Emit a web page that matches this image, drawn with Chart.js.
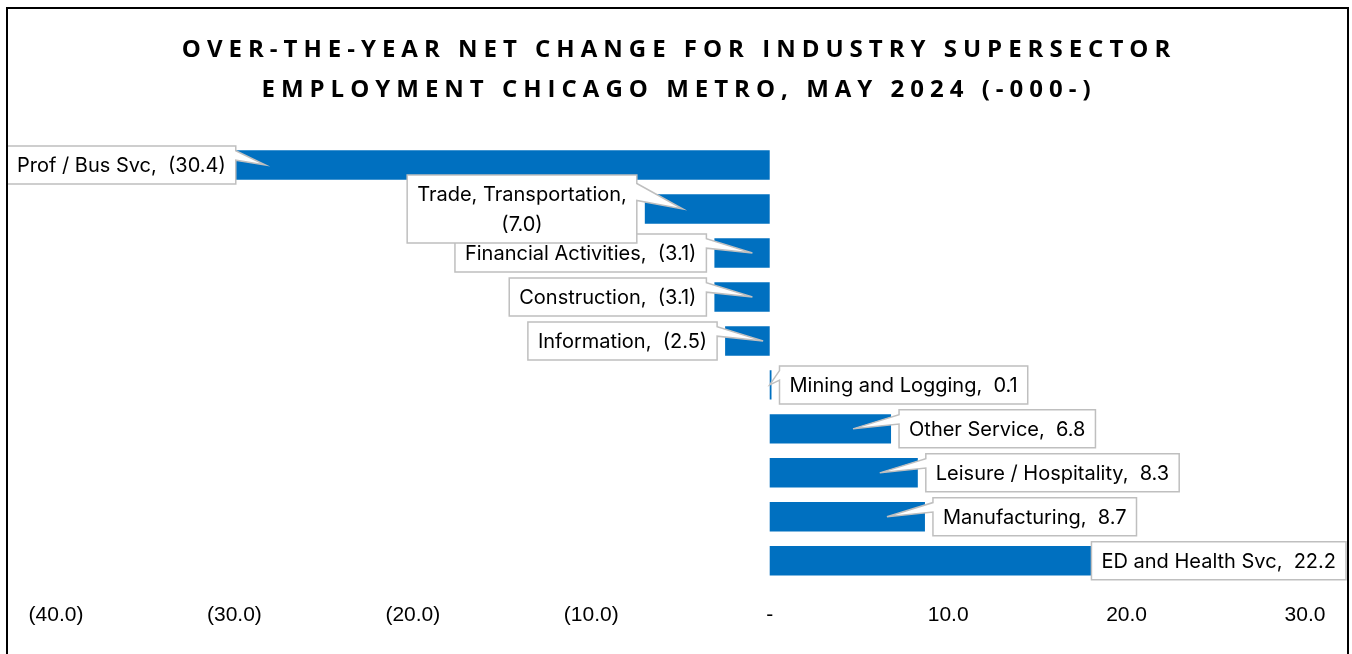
<!DOCTYPE html>
<html><head><meta charset="utf-8">
<script src="https://cdn.jsdelivr.net/npm/chart.js@4.4.1/dist/chart.umd.min.js"></script>
<style>html,body{margin:0;padding:0;background:#fff;overflow:hidden}</style>
</head><body>
<canvas id="c" width="1352" height="654"></canvas>
<script>
const categories = ['Prof / Bus Svc','Trade, Transportation','Financial Activities','Construction','Information','Mining and Logging','Other Service','Leisure / Hospitality','Manufacturing','ED and Health Svc'];
const netChange = [-30.4,-7.0,-3.1,-3.1,-2.5,0.1,6.8,8.3,8.7,22.2];
const titleLines = ['OVER-THE-YEAR NET CHANGE FOR INDUSTRY SUPERSECTOR','EMPLOYMENT CHICAGO METRO, MAY 2024 (-000-)'];
const axisMin = -40, axisMax = 30, axisStep = 10;

function fmtNum(v){
  if (Math.abs(v) < 1e-9) return '-';
  return v < 0 ? '(' + Math.abs(v).toFixed(1) + ')' : v.toFixed(1);
}

const LABEL_FONT = '20px Inter';
const BAR_COLOR = '#0070C0';

const framePlugin = {
  id:'frame',
  afterDraw(chart){
    const ctx = chart.ctx; ctx.save();
    ctx.strokeStyle = '#000'; ctx.lineWidth = 2;
    ctx.strokeRect(7, 8, 1341, 720);
    ctx.restore();
  }
};

const titlePlugin = {
  id:'spacedTitle',
  afterDraw(chart){
    const ctx = chart.ctx; ctx.save();
    ctx.fillStyle = '#000';
    ctx.font = 'bold 24px "Open Sans"';
    ctx.letterSpacing = '6px';
    ctx.textAlign = 'center'; ctx.textBaseline = 'alphabetic';
    ctx.fillText(titleLines[0], 679, 57);
    ctx.fillText(titleLines[1], 679, 97);
    ctx.restore();
  }
};

const calloutPlugin = {
  id:'callouts',
  afterDatasetsDraw(chart){
    const ctx = chart.ctx;
    const meta = chart.getDatasetMeta(0);
    const xs = chart.scales.x;
    const zero = xs.getPixelForValue(0);
    ctx.save();
    ctx.font = LABEL_FONT;
    const lineH = 30, padX = 10, padY = 4, gap = 8, inset = 38;
    const minX = 7, maxX = 1346;
    for (let i = meta.data.length - 1; i >= 0; i--) {
      const bar = meta.data[i];
      const v = netChange[i];
      const full = categories[i] + ',  ' + fmtNum(v);
      let lines = [full];
      if (ctx.measureText(full).width > 248) {
        lines = [categories[i] + ',', fmtNum(v)];
      }
      const tw = Math.max(...lines.map(l => ctx.measureText(l).width));
      const bw = tw + padX * 2;
      const bh = lines.length * lineH + padY * 2;
      const barEnd = bar.x, cy = bar.y;
      let left, tipX;
      if (v < 0) {
        left = barEnd - gap - bw;
        tipX = Math.min(barEnd + inset, zero);
      } else {
        left = barEnd + gap;
        tipX = Math.max(barEnd - inset, zero);
      }
      if (left < minX) left = minX;
      if (left + bw > maxX) left = maxX - bw;
      const top = cy - bh / 2, right = left + bw, bottom = top + bh;
      const b1 = top + bh * 1.5 / 12, b2 = top + bh * 4.5 / 12;
      ctx.beginPath();
      const tipInside = tipX > left && tipX < right;
      ctx.moveTo(left, top);
      ctx.lineTo(right, top);
      if (!tipInside && tipX >= right) { ctx.lineTo(right, b1); ctx.lineTo(tipX, cy); ctx.lineTo(right, b2); }
      ctx.lineTo(right, bottom);
      ctx.lineTo(left, bottom);
      if (!tipInside && tipX <= left) { ctx.lineTo(left, b2); ctx.lineTo(tipX, cy); ctx.lineTo(left, b1); }
      ctx.closePath();
      ctx.fillStyle = '#fff';
      ctx.fill();
      ctx.strokeStyle = '#BFBFBF';
      ctx.lineWidth = 1.5;
      ctx.stroke();
      ctx.fillStyle = '#000';
      ctx.textAlign = 'center'; ctx.textBaseline = 'middle';
      lines.forEach((l, k) => {
        ctx.fillText(l, (left + right) / 2, top + padY + lineH * (k + 0.5) + 1);
      });
    }
    ctx.restore();
  }
};

new Chart(document.getElementById('c'), {
  type: 'bar',
  data: {
    labels: categories,
    datasets: [{
      data: netChange,
      backgroundColor: BAR_COLOR,
      borderWidth: 0,
      categoryPercentage: 1,
      barPercentage: 0.67
    }]
  },
  options: {
    indexAxis: 'y',
    responsive: false,
    animation: false,
    devicePixelRatio: 1,
    layout: { padding: { left: 56, right: 47, top: 143, bottom: 6 } },
    plugins: { legend: { display: false }, tooltip: { enabled: false }, title: { display: false } },
    scales: {
      x: {
        min: axisMin, max: axisMax,
        ticks: {
          stepSize: axisStep, padding: 20, color: '#000', maxRotation: 0, autoSkip: false,
          font: { family: 'Liberation Sans', size: 21 },
          callback: (v) => fmtNum(v)
        },
        grid: { display: false, drawTicks: false },
        border: { display: false }
      },
      y: { display: false }
    }
  },
  plugins: [calloutPlugin, titlePlugin, framePlugin]
});
</script>
</body></html>
